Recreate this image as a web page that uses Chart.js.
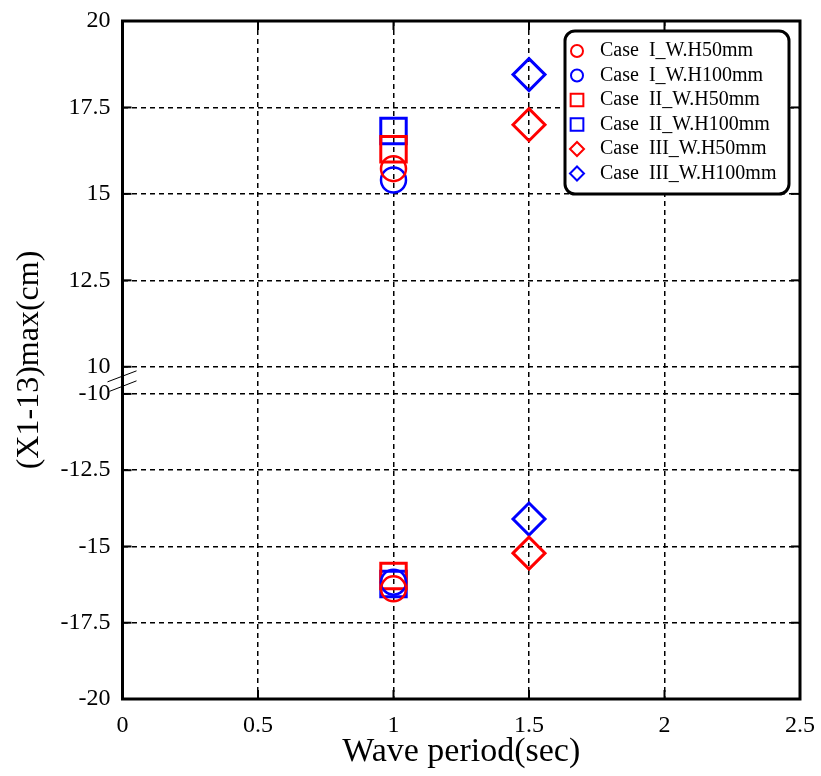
<!DOCTYPE html>
<html>
<head>
<meta charset="utf-8">
<title>Wave period vs (X1-13)max</title>
<script src="https://cdn.jsdelivr.net/npm/chart.js@4/dist/chart.umd.min.js"></script>
<style>
    body { margin: 0; background: #fff; }
    canvas { display: block; }
</style>
</head>
<body>
<canvas id="chart" width="821" height="776"></canvas>
<script>
// Legend labels, one per test case
const caseLabels = [
    'Case  I_W.H50mm',
    'Case  I_W.H100mm',
    'Case  II_W.H50mm',
    'Case  II_W.H100mm',
    'Case  III_W.H50mm',
    'Case  III_W.H100mm'
];

// Wave period (sec) of each case
const wavePeriods = [1, 1, 1, 1, 1.5, 1.5];

// Upper (positive) and lower (negative) max displacement (cm)
const upperValues = [15.73, 15.40, 16.29, 16.82, 17.00, 18.45];
const lowerValues = [-16.39, -16.17, -15.97, -16.23, -15.22, -14.10];

// Tick labels of the axes
const xTicks = [0, 0.5, 1, 1.5, 2, 2.5];
const upperTicks = [10, 12.5, 15, 17.5, 20];
const lowerTicks = [-20, -17.5, -15, -12.5, -10];

const caseColors = ['#ff0000', '#0000ff', '#ff0000', '#0000ff', '#ff0000', '#0000ff'];
const caseMarkers = ['circle', 'circle', 'rect', 'rect', 'rectRot', 'rectRot'];
const markerRadius = { circle: 12.5, rect: 18, rectRot: 16 };
const legendRadius = { circle: 6, rect: 9, rectRot: 7 };

Chart.defaults.font.family = '"Liberation Serif", "Times New Roman", serif';
Chart.defaults.color = '#000';

/**
 * Build one dataset per case and per half of the broken axis
 */
function buildDatasets() {
    const sets = [];
    caseLabels.forEach((label, i) => {
        const style = {
            label: label,
            pointStyle: caseMarkers[i],
            pointRadius: markerRadius[caseMarkers[i]],
            pointBorderWidth: caseMarkers[i] === 'circle' ? 2.5 : 3,
            pointBorderColor: caseColors[i],
            pointBackgroundColor: 'rgba(0,0,0,0)',
            showLine: false
        };
        sets.push(Object.assign({}, style, {
            yAxisID: 'yTop',
            data: [{ x: wavePeriods[i], y: upperValues[i] }]
        }));
        sets.push(Object.assign({}, style, {
            yAxisID: 'yBot',
            data: [{ x: wavePeriods[i], y: lowerValues[i] }]
        }));
    });
    return sets;
}

const dashedGrid = {
    color: '#000',
    lineWidth: 1.5,
    drawTicks: false
};

function yAxis(min, max, ticks, weight) {
    return {
        type: 'linear',
        position: 'left',
        stack: 'broken',
        stackWeight: weight,
        min: min,
        max: max,
        border: { display: false, dash: [5, 4] },
        grid: Object.assign({}, dashedGrid),
        ticks: { padding: 12, font: { size: 24 } },
        afterBuildTicks: (scale) => {
            scale.ticks = ticks.map(v => ({ value: v }));
        },
        afterFit: (scale) => {
            scale.width = 92;
            scale.paddingTop = 0;
            scale.paddingBottom = 0;
        }
    };
}

/**
 * Frame, inward ticks, axis break, y title and boxed legend
 */
const decorPlugin = {
    id: 'decor',
    afterDraw(chart) {
        const { ctx, chartArea: a, scales } = chart;
        const line = (x1, y1, x2, y2) => {
            ctx.beginPath();
            ctx.moveTo(x1, y1);
            ctx.lineTo(x2, y2);
            ctx.stroke();
        };
        ctx.save();
        ctx.strokeStyle = '#000';
        ctx.setLineDash([]);

        // inward tick marks on all four sides
        ctx.lineWidth = 2;
        xTicks.forEach(v => {
            const px = scales.x.getPixelForValue(v);
            line(px, a.bottom, px, a.bottom - 9);
            line(px, a.top, px, a.top + 9);
        });
        [[scales.yTop, upperTicks], [scales.yBot, lowerTicks]].forEach(([s, list]) => {
            list.forEach(v => {
                const py = s.getPixelForValue(v);
                line(a.left, py, a.left + 9, py);
                line(a.right, py, a.right - 9, py);
            });
        });

        // frame
        ctx.lineWidth = 3;
        ctx.strokeRect(a.left, a.top, a.right - a.left, a.bottom - a.top);

        // axis break marks
        const mid = (scales.yTop.getPixelForValue(10) + scales.yBot.getPixelForValue(-10)) / 2;
        ctx.lineWidth = 1;
        line(a.left - 15, mid + 1.5, a.left + 14, mid - 9.5);
        line(a.left - 13, mid + 11, a.left + 14, mid + 0.5);

        // y axis title
        ctx.save();
        ctx.translate(30, (a.top + a.bottom) / 2);
        ctx.rotate(-Math.PI / 2);
        ctx.font = '32px "Liberation Serif", serif';
        ctx.fillStyle = '#000';
        ctx.textAlign = 'center';
        ctx.textBaseline = 'middle';
        ctx.fillText('(X1-13)max(cm)', 0, 0);
        ctx.restore();

        // legend box
        const bw = 224, bh = 163, r = 10;
        const bx = a.right - 11 - bw, by = a.top + 10;
        ctx.beginPath();
        ctx.moveTo(bx + r, by);
        ctx.arcTo(bx + bw, by, bx + bw, by + bh, r);
        ctx.arcTo(bx + bw, by + bh, bx, by + bh, r);
        ctx.arcTo(bx, by + bh, bx, by, r);
        ctx.arcTo(bx, by, bx + bw, by, r);
        ctx.closePath();
        ctx.fillStyle = '#fff';
        ctx.fill();
        ctx.lineWidth = 3;
        ctx.stroke();

        ctx.font = '20px "Liberation Serif", serif';
        ctx.textAlign = 'left';
        ctx.textBaseline = 'middle';
        caseLabels.forEach((label, i) => {
            const cy = by + 20 + i * 24.5;
            ctx.strokeStyle = caseColors[i];
            ctx.fillStyle = 'rgba(0,0,0,0)';
            ctx.lineWidth = 2;
            Chart.helpers.drawPoint(ctx, {
                pointStyle: caseMarkers[i],
                radius: legendRadius[caseMarkers[i]],
                rotation: 0,
                borderWidth: 2
            }, bx + 12, cy);
            ctx.fillStyle = '#000';
            ctx.fillText(label, bx + 35, cy);
        });
        ctx.restore();
    }
};

new Chart(document.getElementById('chart'), {
    type: 'scatter',
    data: { datasets: buildDatasets() },
    options: {
        responsive: false,
        animation: false,
        layout: { padding: { left: 30.5, top: 19, right: 20, bottom: 0 } },
        plugins: {
            legend: { display: false },
            tooltip: { enabled: false }
        },
        scales: {
            x: {
                type: 'linear',
                min: 0,
                max: 2.5,
                border: { display: false, dash: [5, 4] },
                grid: Object.assign({}, dashedGrid),
                ticks: {
                    padding: 12,
                    font: { size: 24 },
                    callback: (v) => String(v)
                },
                afterBuildTicks: (scale) => {
                    scale.ticks = xTicks.map(v => ({ value: v }));
                },
                afterFit: (scale) => {
                    scale.height = 77;
                    scale.paddingLeft = 0;
                    scale.paddingRight = 0;
                },
                title: {
                    display: true,
                    text: 'Wave period(sec)',
                    font: { size: 34 },
                    padding: { top: 0, bottom: 4 }
                }
            },
            // bottom half first so the top half is stacked above it
            yBot: yAxis(-20, -9.11, lowerTicks, 333.2),
            yTop: yAxis(10, 20, upperTicks, 346.8)
        }
    },
    plugins: [decorPlugin]
});
</script>
</body>
</html>
